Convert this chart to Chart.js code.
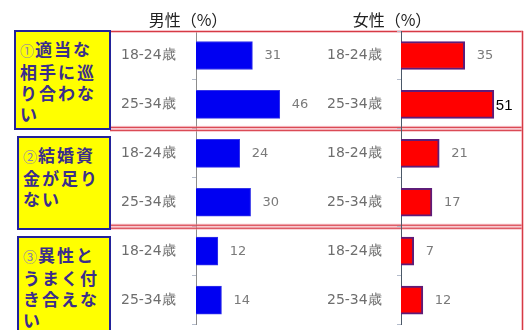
<!DOCTYPE html>
<html lang="ja">
<head>
<meta charset="utf-8">
<script src="https://cdn.jsdelivr.net/npm/chart.js@4.4.1/dist/chart.umd.min.js"></script>
<style>
  html, body { margin: 0; padding: 0; background: #fff; width: 526px; height: 330px; overflow: hidden; }
  #wrap { position: relative; width: 526px; height: 336px; }
  canvas { position: absolute; left: 0; top: 0; }
  .head { position: absolute; top: 7px; font: 16px "Noto Sans CJK JP", sans-serif; color: #222; white-space: nowrap; transform: translateX(-50%); }
  .reason { position: absolute; box-sizing: border-box; background: #ffff00; border: 2px solid #22229a;
            color: #3a2d8c; font: bold 17px/21px "Noto Sans CJK JP", sans-serif; letter-spacing: 2px;
            padding: 6px 0 0 4px; white-space: nowrap; }
  .reason .no { color: #8a82ae; font-size: 14px; letter-spacing: 1px; font-weight: normal; }
</style>
</head>
<body>
<div id="wrap">
  <canvas id="male" width="526" height="336"></canvas>
  <canvas id="female" width="526" height="336"></canvas>
</div>
<script>
// Survey: reasons for not marrying, by sex and age group (%)
const ageGroups = ["18-24歳", "25-34歳", "18-24歳", "25-34歳", "18-24歳", "25-34歳"];
const maleValues = [31, 46, 24, 30, 12, 14];
const femaleValues = [35, 51, 21, 17, 7, 12];
const reasonMarks = ["①", "②", "③"];
const reasonTexts = ["適当な相手に巡り合わない", "結婚資金が足りない", "異性とうまく付き合えない"];
const panelTitles = ["男性（%）", "女性（%）"];

// layout
const W = 526, H = 336;
const PX = 1.82;               // pixels per percentage point
const AREA_TOP = 31, AREA_BOTTOM = 334;
const wrap = document.getElementById('wrap');

// panel headings
[[panelTitles[0], 188], [panelTitles[1], 392]].forEach(([t, cx]) => {
  const d = document.createElement('div');
  d.className = 'head';
  d.style.left = cx + 'px';
  d.textContent = t;
  wrap.appendChild(d);
});

// yellow reason boxes, four characters per line
const boxGeom = [[14, 30, 97, 100], [17, 136, 94, 94], [17, 236, 94, 100]];
reasonTexts.forEach((txt, i) => {
  const [l, t, w, h] = boxGeom[i];
  const d = document.createElement('div');
  d.className = 'reason';
  Object.assign(d.style, { left: l + 'px', top: t + 'px', width: w + 'px', height: h + 'px' });
  const chars = Array.from(txt);
  const lines = [chars.slice(0, 3).join('')];
  for (let k = 3; k < chars.length; k += 4) lines.push(chars.slice(k, k + 4).join(''));
  const mark = document.createElement('span');
  mark.className = 'no';
  mark.textContent = reasonMarks[i];
  d.appendChild(mark);
  lines.forEach((ln, k) => {
    if (k > 0) d.appendChild(document.createElement('br'));
    d.appendChild(document.createTextNode(ln));
  });
  wrap.appendChild(d);
});

// red group frames drawn across both panels
const framePlugin = {
  id: 'frames',
  beforeDatasetsDraw(chart) {
    const ctx = chart.ctx, y = chart.scales.y;
    const x0 = 110, x1 = 523;
    const hline = (yy) => {
      ctx.fillStyle = 'rgba(240,150,160,0.55)';
      ctx.fillRect(x0, yy - 1.5, x1 - x0, 3);
      ctx.fillStyle = '#d63a44';
      ctx.fillRect(x0, yy - 0.5, x1 - x0, 1);
    };
    ctx.save();
    hline(y.getPixelForValue(-0.5) + 0.5);
    [1.5, 3.5].forEach(b => {
      const yy = y.getPixelForValue(b);
      hline(yy - 1.5);
      hline(yy + 1.5);
    });
    ctx.fillStyle = 'rgba(240,150,160,0.55)';
    ctx.fillRect(x1 - 2, AREA_TOP, 3, H - AREA_TOP);
    ctx.fillStyle = '#d63a44';
    ctx.fillRect(x1 - 1, AREA_TOP, 1, H - AREA_TOP);
    ctx.restore();
  }
};

// value labels beside each bar
function valueLabels(highlight) {
  return {
    id: 'values',
    afterDatasetsDraw(chart) {
      const ctx = chart.ctx;
      const ds = chart.data.datasets[0];
      ctx.save();
      ctx.textBaseline = 'middle';
      ctx.textAlign = 'left';
      chart.getDatasetMeta(0).data.forEach((bar, i) => {
        if (i === highlight) {
          ctx.font = '15px "Liberation Sans", Arial, sans-serif';
          ctx.fillStyle = '#000';
          ctx.fillText(String(ds.data[i]), bar.x + 2, bar.y + 1);
        } else {
          ctx.font = '13px "DejaVu Sans", sans-serif';
          ctx.fillStyle = '#7a7a7a';
          ctx.fillText(String(ds.data[i]), bar.x + 12, bar.y);
        }
      });
      ctx.restore();
    }
  };
}

function makePanel(id, values, cfg, extraPlugins) {
  return new Chart(document.getElementById(id), {
    type: 'bar',
    data: {
      labels: ageGroups,
      datasets: [{
        data: values,
        backgroundColor: cfg.fill,
        borderColor: cfg.edge,
        borderWidth: cfg.edgeWidth,
        barThickness: 28
      }]
    },
    options: {
      indexAxis: 'y',
      responsive: false,
      animation: false,
      layout: {
        padding: {
          left: cfg.labelLeft,
          right: W - cfg.axisX - cfg.xMax * PX,
          top: AREA_TOP,
          bottom: H - AREA_BOTTOM
        }
      },
      plugins: { legend: { display: false }, tooltip: { enabled: false } },
      scales: {
        x: { display: false, min: 0, max: cfg.xMax },
        y: {
          afterFit: s => { s.width = cfg.axisX - cfg.labelLeft; },
          border: { display: true, color: cfg.axisColor, width: 1 },
          grid: { display: true, drawOnChartArea: false, drawTicks: true, tickLength: 4, color: '#b4bccb' },
          ticks: { crossAlign: 'far', color: '#6e6e6e', font: { family: 'DejaVu Sans', size: 14 } }
        }
      }
    },
    plugins: extraPlugins
  });
}

makePanel('male', maleValues,
  { fill: '#0000f2', edge: '#3434e8', edgeWidth: 1, labelLeft: 121, axisX: 196, xMax: 70, axisColor: '#8c8c8c' },
  [framePlugin, valueLabels(-1)]);

makePanel('female', femaleValues,
  { fill: '#ff0000', edge: '#5e1c78', edgeWidth: 2, labelLeft: 327, axisX: 401, xMax: 66, axisColor: '#4b5868' },
  [valueLabels(1)]);
</script>
</body>
</html>
